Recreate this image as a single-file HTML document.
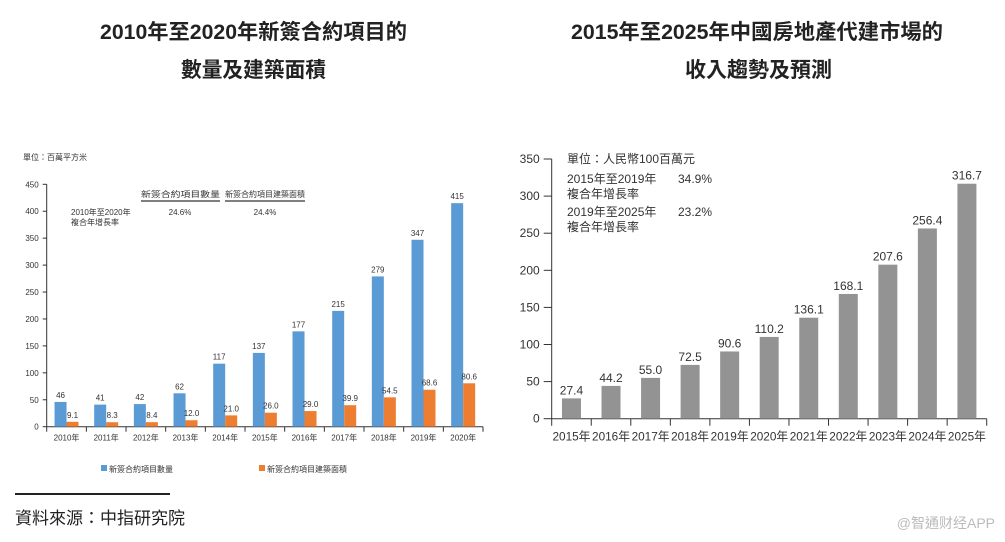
<!DOCTYPE html>
<html><head><meta charset="utf-8">
<style>
html,body{margin:0;padding:0;background:#fff;}
svg{display:block;font-family:"Liberation Sans","Noto Sans CJK TC",sans-serif;}
</style></head>
<body>
<svg id="root" width="1005" height="542" viewBox="0 0 1005 542" xmlns="http://www.w3.org/2000/svg">
<g font-weight="bold" font-size="21" fill="#222">
<text x="100" y="39" textLength="307" lengthAdjust="spacingAndGlyphs">2010年至2020年新簽合約項目的</text>
<text x="181" y="77" textLength="145" lengthAdjust="spacingAndGlyphs">數量及建築面積</text>
</g>
<text x="571" y="39" font-weight="bold" font-size="21" fill="#222" textLength="372" lengthAdjust="spacingAndGlyphs">2015年至2025年中國房地產代建市場的</text>
<text x="685" y="77" font-weight="bold" font-size="21" fill="#222" textLength="147" lengthAdjust="spacingAndGlyphs">收入趨勢及預測</text>

<text x="23" y="160" font-size="8" fill="#333">單位：百萬平方米</text>
<g id="left"></g>
<g font-size="8" fill="#333">
<text x="141" y="197" textLength="79" lengthAdjust="spacingAndGlyphs">新簽合約項目數量</text>
<line x1="141" y1="201" x2="220" y2="201" stroke="#555" stroke-width="1.5"/>
<text x="225" y="197" textLength="80" lengthAdjust="spacingAndGlyphs">新簽合約項目建築面積</text>
<line x1="225" y1="201" x2="305" y2="201" stroke="#555" stroke-width="1.5"/>
<text x="71" y="215">2010年至2020年</text>
<text x="71" y="225">複合年增長率</text>
<text x="180" y="215" text-anchor="middle">24.6%</text>
<text x="265" y="215" text-anchor="middle">24.4%</text>
</g>
<g font-size="8" fill="#333">
<rect x="101" y="465" width="6" height="6" fill="#5b9bd5"/>
<text x="109" y="472">新簽合約項目數量</text>
<rect x="259" y="465" width="6" height="6" fill="#ed7d31"/>
<text x="267" y="472">新簽合約項目建築面積</text>
</g>

<g id="right"></g>
<g font-size="12" fill="#333">
<text x="567" y="163">單位：人民幣100百萬元</text>
<text x="567" y="183">2015年至2019年</text>
<text x="567" y="198">複合年增長率</text>
<text x="678" y="183">34.9%</text>
<text x="567" y="216">2019年至2025年</text>
<text x="567" y="231">複合年增長率</text>
<text x="678" y="216">23.2%</text>
</g>

<line x1="15" y1="494" x2="170" y2="494" stroke="#222" stroke-width="2"/>
<text x="15" y="524" font-size="17" fill="#222">資料來源：中指研究院</text>
<text x="995" y="528" text-anchor="end" font-size="14" fill="#bbb">@智通财经APP</text>
</svg>
<script>
const leftCats=["2010年","2011年","2012年","2013年","2014年","2015年","2016年","2017年","2018年","2019年","2020年"];
const leftCount=[46,41,42,62,117,137,177,215,279,347,415];
const leftArea=[9.1,8.3,8.4,12.0,21.0,26.0,29.0,39.9,54.5,68.6,80.6];
const leftTicks=[0,50,100,150,200,250,300,350,400,450];
const rightCats=["2015年","2016年","2017年","2018年","2019年","2020年","2021年","2022年","2023年","2024年","2025年"];
const rightVals=[27.4,44.2,55.0,72.5,90.6,110.2,136.1,168.1,207.6,256.4,316.7];
const rightTicks=[0,50,100,150,200,250,300,350];

const NS="http://www.w3.org/2000/svg";
function mk(parent,tag,attrs,text){const e=document.createElementNS(NS,tag);for(const k in attrs)e.setAttribute(k,attrs[k]);if(text!==undefined)e.textContent=text;parent.appendChild(e);return e;}

(function(){
const g=document.getElementById('left');
const x0=46.7,x1=483,y0=426.7,yTop=184.3,max=450;
const yS=v=>y0-(v/max)*(y0-yTop);
const cw=(x1-x0)/leftCats.length;
const xC=i=>x0+cw*(i+0.5);
mk(g,'line',{x1:x0,y1:yTop,x2:x0,y2:y0,stroke:'#333','stroke-width':1});
mk(g,'line',{x1:x0,y1:y0,x2:x1,y2:y0,stroke:'#333','stroke-width':1});
leftTicks.forEach(t=>{
 const tk=mk(g,'line',{x1:x0-4,y1:yS(t),x2:x0,y2:yS(t),stroke:'#333'});
 
 
 const tl=mk(g,'text',{x:x0-8,y:yS(t)+3,'text-anchor':'end','font-size':8,fill:'#333'},t);
 
 
});
for(let i=0;i<=leftCats.length;i++){mk(g,'line',{x1:x0+cw*i,y1:y0,x2:x0+cw*i,y2:y0+5,stroke:'#333'});}
leftCats.forEach((c,i)=>{
 const cx=xC(i);
 const b=mk(g,'rect',{x:cx-12,y:yS(leftCount[i]),width:12,height:y0-yS(leftCount[i]),fill:'#5b9bd5'});
 
 
 const o=mk(g,'rect',{x:cx,y:yS(leftArea[i]),width:12,height:y0-yS(leftArea[i]),fill:'#ed7d31'});
 
 
 const l1=mk(g,'text',{x:cx-6,y:yS(leftCount[i])-4,'text-anchor':'middle','font-size':8,fill:'#333'},leftCount[i]);
 
 
 const l2=mk(g,'text',{x:cx+6,y:yS(leftArea[i])-4,'text-anchor':'middle','font-size':8,fill:'#333'},leftArea[i].toFixed(1));
 
 
 const xl=mk(g,'text',{x:cx,y:y0+14,'text-anchor':'middle','font-size':8,fill:'#333'},c);
 
 
});
})();

(function(){
const g=document.getElementById('right');
const x0=551.7,x1=986.7,y0=418.7,yTop=159,max=350;
const yS=v=>y0-(v/max)*(y0-yTop);
const cw=(x1-x0)/rightCats.length;
const xC=i=>x0+cw*(i+0.5);
mk(g,'line',{x1:x0,y1:yTop,x2:x0,y2:y0+7,stroke:'#333','stroke-width':1});
mk(g,'line',{x1:x0,y1:y0,x2:x1,y2:y0,stroke:'#333','stroke-width':1});
rightTicks.forEach(t=>{
 const tk=mk(g,'line',{x1:x0-8,y1:yS(t),x2:x0,y2:yS(t),stroke:'#333'});
 
 
 const tl=mk(g,'text',{x:x0-12,y:yS(t)+4,'text-anchor':'end','font-size':12,fill:'#333'},t);
 
 
});
for(let i=1;i<=rightCats.length;i++){mk(g,'line',{x1:x0+cw*i,y1:y0,x2:x0+cw*i,y2:y0+7,stroke:'#333'});}
rightCats.forEach((c,i)=>{
 const cx=xC(i);
 const b=mk(g,'rect',{x:cx-9.5,y:yS(rightVals[i]),width:19,height:y0-yS(rightVals[i]),fill:'#939393'});
 
 
 const l=mk(g,'text',{x:cx,y:yS(rightVals[i])-4,'text-anchor':'middle','font-size':12,fill:'#333'},rightVals[i].toFixed(1));
 
 
 const xl=mk(g,'text',{x:cx,y:y0+22,'text-anchor':'middle','font-size':12,fill:'#333',textLength:38,lengthAdjust:'spacingAndGlyphs'},c);
 
 
});
})();
</script>
</body></html>
